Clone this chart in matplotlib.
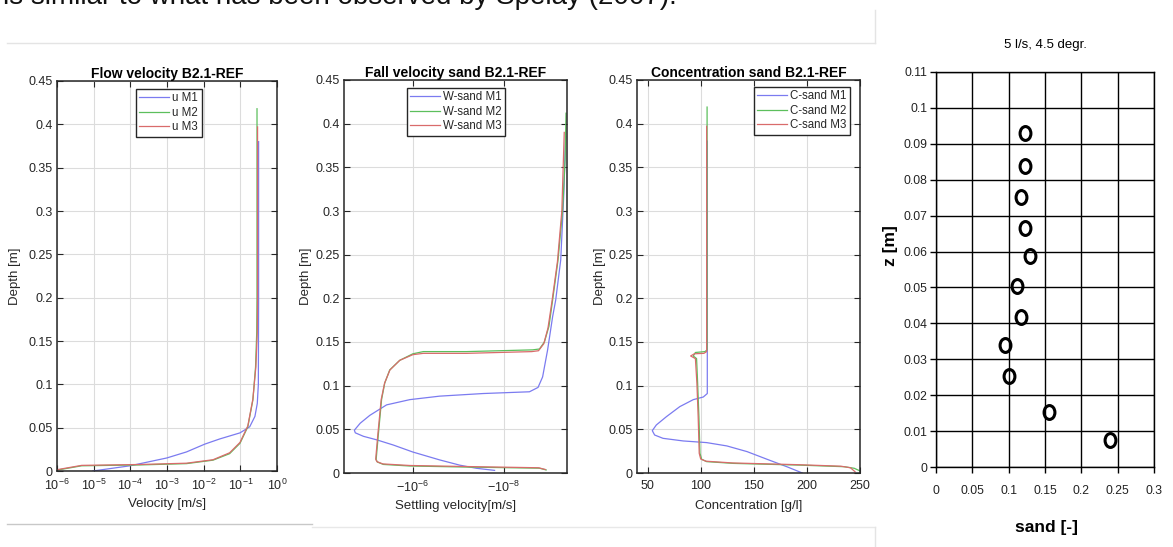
import numpy as np
import matplotlib
matplotlib.use("Agg")
import matplotlib.pyplot as plt
from matplotlib import font_manager, ticker
from matplotlib.lines import Line2D
from matplotlib.markers import MarkerStyle
from matplotlib.transforms import Affine2D

plt.rcParams["font.family"] = "Liberation Sans"
plt.rcParams["mathtext.fontset"] = "custom"
plt.rcParams["mathtext.rm"] = "Liberation Sans"
plt.rcParams["mathtext.it"] = "Liberation Sans:italic"
plt.rcParams["mathtext.bf"] = "Liberation Sans:bold"

_names = {f.name for f in font_manager.fontManager.ttflist}
NARROW = "Liberation Sans Narrow" if "Liberation Sans Narrow" in _names else "Liberation Sans"
HAS_NARROW = NARROW != "Liberation Sans"

# ---- data -------------------------------------------------------------
# flow velocity [m/s] vs depth [m]
u_m1 = [9.5e-6, 9.8e-5, 9.8e-4, 3.4e-3, 1.07e-2, 2.75e-2, 9.8e-2, 0.18, 0.25, 0.29, 0.31, 0.315, 0.315]
z_u_m1 = [0.0, 0.006, 0.015, 0.022, 0.031, 0.037, 0.044, 0.051, 0.063, 0.078, 0.10, 0.2, 0.38]
u_m2 = [1e-6, 4.7e-6, 1.8e-4, 3.4e-3, 1.8e-2, 5.1e-2, 9.8e-2, 0.16, 0.22, 0.26, 0.28, 0.285, 0.285]
z_u_m2 = [0.001, 0.006, 0.007, 0.0085, 0.0125, 0.020, 0.032, 0.051, 0.082, 0.12, 0.16, 0.2, 0.418]
u_m3 = [1e-6, 4.7e-6, 1.8e-4, 3.4e-3, 1.8e-2, 5.1e-2, 9.8e-2, 0.16, 0.22, 0.265, 0.29, 0.295, 0.295]
z_u_m3 = [0.0015, 0.0065, 0.0075, 0.009, 0.013, 0.021, 0.033, 0.052, 0.083, 0.12, 0.16, 0.2, 0.397]

# settling velocity [m/s] vs depth [m]
w_m1 = [-1.58e-8, -3.98e-8, -9.3e-8, -2.57e-7, -1.0e-6, -2.69e-6, -6.3e-6, -1.23e-5, -1.86e-5,
        -1.95e-5, -1.45e-5, -8.9e-6, -3.8e-6, -1.17e-6, -2.57e-7, -2.82e-8, -2.69e-9, -1.74e-9,
        -1.38e-9, -1.07e-9, -8.3e-10, -7.1e-10, -5.5e-10, -4.7e-10, -4.3e-10]
z_w_m1 = [0.003, 0.0054, 0.009, 0.015, 0.024, 0.032, 0.038, 0.042, 0.046,
          0.049, 0.057, 0.066, 0.078, 0.084, 0.088, 0.091, 0.093, 0.098,
          0.110, 0.141, 0.179, 0.198, 0.244, 0.32, 0.385]
w_m2 = [-1.15e-9, -1.62e-9, -6.6e-8, -1.17e-6, -4.47e-6, -6.03e-6, -6.46e-6, -5.75e-6, -4.9e-6,
        -4.17e-6, -3.24e-6, -1.95e-6, -1.0e-6, -5.9e-7, -6.6e-8, -2.29e-9, -1.62e-9, -1.26e-9,
        -1.0e-9, -8.3e-10, -6.3e-10, -5.0e-10, -4.4e-10, -4.2e-10]
z_w_m2 = [0.0035, 0.0055, 0.0068, 0.008, 0.0098, 0.0125, 0.0152, 0.045, 0.084,
          0.103, 0.118, 0.129, 0.1365, 0.139, 0.139, 0.141, 0.142, 0.150,
          0.168, 0.198, 0.244, 0.301, 0.359, 0.412]
w_m3 = [-1.2e-9, -1.7e-9, -6.6e-8, -1.17e-6, -4.6e-6, -6.2e-6, -6.6e-6, -5.9e-6, -5.0e-6,
        -4.2e-6, -3.2e-6, -1.95e-6, -1.0e-6, -5.9e-7, -6.6e-8, -2.4e-9, -1.7e-9, -1.3e-9,
        -1.05e-9, -8.6e-10, -6.5e-10, -5.2e-10, -4.6e-10]
z_w_m3 = [0.004, 0.006, 0.0074, 0.0086, 0.0104, 0.013, 0.016, 0.045, 0.084,
          0.103, 0.118, 0.129, 0.1355, 0.137, 0.137, 0.139, 0.140, 0.148,
          0.166, 0.196, 0.242, 0.300, 0.39]

# sand concentration [g/l] vs depth [m]
c_m1 = [195.7, 181.5, 162.5, 143.6, 124.6, 105.6, 83.5, 64.5, 56.6, 54.4, 58.2, 67.7, 80.3,
        93.0, 102.4, 106.2, 106.2, 106.2, 106.2]
z_c_m1 = [0.0, 0.007, 0.0157, 0.0245, 0.031, 0.0348, 0.0367, 0.0397, 0.0435, 0.0485, 0.055,
          0.0645, 0.076, 0.084, 0.087, 0.091, 0.122, 0.139, 0.38]
c_m2 = [249.4, 244.6, 235.1, 194.0, 130.9, 105.6, 100.9, 99.3, 98.3, 97.1, 96.1, 93.0,
        95.0, 104.0, 106.0, 106.0]
z_c_m2 = [0.0027, 0.0054, 0.0072, 0.009, 0.011, 0.013, 0.0157, 0.0225, 0.0645, 0.103, 0.131,
          0.134, 0.138, 0.139, 0.141, 0.419]
c_m3 = [245.3, 241.0, 232.0, 192.0, 130.0, 105.0, 100.0, 98.6, 97.6, 96.4, 95.0, 90.5,
        94.0, 103.0, 105.6, 105.6]
z_c_m3 = [0.0015, 0.006, 0.0078, 0.0095, 0.0115, 0.0135, 0.016, 0.0225, 0.0645, 0.103, 0.131,
          0.134, 0.1365, 0.137, 0.139, 0.397]

# measured sand fraction (5 l/s, 4.5 degr.)
sand_frac = [0.123, 0.123, 0.117, 0.123, 0.129, 0.111, 0.117, 0.095, 0.101, 0.155, 0.240]
sand_z = [0.093, 0.0839, 0.0753, 0.0666, 0.0588, 0.0505, 0.0419, 0.034, 0.0253, 0.0154, 0.0075]

depth_ticks = [0, 0.05, 0.1, 0.15, 0.2, 0.25, 0.3, 0.35, 0.4, 0.45]
depth_ticklabels = ["0", "0.05", "0.1", "0.15", "0.2", "0.25", "0.3", "0.35", "0.4", "0.45"]

BLUE, GREEN, RED = "#7b7bf0", "#5cbf5c", "#d96b6b"
AXC = "#262626"
W, H = 1173, 547


def px_rect(left, top, right, bottom):
    return [left / W, 1 - bottom / H, (right - left) / W, (bottom - top) / H]


def matlab_axes(ax, title, xlabel, ylab_x, legend_loc, anchor, legend_labels, lines):
    ax.set_ylim(0, 0.45)
    ax.set_yticks(depth_ticks)
    ax.set_yticklabels(depth_ticklabels)
    ax.tick_params(which="both", direction="in", top=True, right=True, length=4,
                   width=0.8, color=AXC, labelsize=9, labelcolor=AXC, pad=3)
    ax.tick_params(axis="x", pad=5)
    ax.tick_params(which="minor", length=0)
    for s in ax.spines.values():
        s.set_color(AXC)
        s.set_linewidth(1.1)
    ax.grid(True, which="major", color="#dcdcdc", linewidth=0.8)
    ax.set_axisbelow(True)
    ax.set_title(title, fontsize=10, fontweight="bold", color="black", pad=2)
    ax.set_xlabel(xlabel, fontsize=9.5, color=AXC)
    ax.xaxis.set_label_coords(0.5, -0.068)
    ax.set_ylabel("Depth [m]", fontsize=9.5, color=AXC)
    ax.yaxis.set_label_coords(ylab_x, 0.5)
    leg = ax.legend(lines, legend_labels, loc=legend_loc, fontsize=8.3, handlelength=2.6,
                    handletextpad=0.25, borderpad=0.3, labelspacing=0.2,
                    borderaxespad=0.0, fancybox=False, framealpha=1, edgecolor=AXC,
                    bbox_to_anchor=anchor)
    leg.get_frame().set_linewidth(1.0)
    for t in leg.get_texts():
        t.set_color(AXC)


fig = plt.figure(figsize=(W / 100, H / 100), dpi=100)
fig.patch.set_facecolor("white")

# document fragments around the figure
fig.text(3 / W, 1 - 4 / H, "is similar to what has been observed by Spelay (2007).",
         fontsize=20, va="baseline", ha="left", color="#111111")
for (x0, y0, x1, y1, c) in [(7, 43, 875, 43, "#e4e4e4"), (875, 10, 875, 43, "#e4e4e4"),
                            (7, 524, 312, 524, "#c8c8c8"), (312, 527, 875, 527, "#e8e8e8"),
                            (875, 527, 875, 547, "#e4e4e4")]:
    fig.add_artist(Line2D([x0 / W, x1 / W], [1 - y0 / H, 1 - y1 / H],
                          transform=fig.transFigure, color=c, linewidth=1))

# ---- panel 1: flow velocity --------------------------------------------
ax1 = fig.add_axes(px_rect(57, 81, 277, 471))
l1, = ax1.plot(u_m1, z_u_m1, color=BLUE, lw=0.9)
l2, = ax1.plot(u_m2, z_u_m2, color=GREEN, lw=0.9)
l3, = ax1.plot(u_m3, z_u_m3, color=RED, lw=0.9)
ax1.set_xscale("log")
ax1.set_xlim(1e-6, 1e0)
ax1.xaxis.set_major_locator(ticker.LogLocator(base=10, numticks=10))
ax1.xaxis.set_minor_locator(ticker.NullLocator())
# legend box spans x 136-199 px, top at 89 px
matlab_axes(ax1, "Flow velocity B2.1-REF", "Velocity [m/s]", -0.165, "upper left",
            ((136 - 57) / 220, (471 - 89) / 390), ["u M1", "u M2", "u M3"], [l1, l2, l3])

# ---- panel 2: fall velocity (negative values on a log axis) -------------
ax2 = fig.add_axes(px_rect(344, 80, 567, 473))
ax2.set_xscale("function", functions=(lambda x: -np.log10(-np.asarray(x, float)),
                                      lambda y: -10.0 ** (-np.asarray(y, float))))
l1, = ax2.plot(w_m1, z_w_m1, color=BLUE, lw=0.9)
l2, = ax2.plot(w_m2, z_w_m2, color=GREEN, lw=0.9)
l3, = ax2.plot(w_m3, z_w_m3, color=RED, lw=0.9)
ax2.set_xlim(-3.3e-5, -4.0e-10)
ax2.xaxis.set_major_locator(ticker.FixedLocator([-1e-6, -1e-8]))
ax2.xaxis.set_major_formatter(ticker.FixedFormatter([r"$\mathdefault{-10^{-6}}$",
                                                     r"$\mathdefault{-10^{-8}}$"]))
ax2.xaxis.set_minor_locator(ticker.NullLocator())
matlab_axes(ax2, "Fall velocity sand B2.1-REF", "Settling velocity[m/s]", -0.143, "upper left",
            ((407 - 344) / 223, (473 - 88) / 393), ["W-sand M1", "W-sand M2", "W-sand M3"],
            [l1, l2, l3])

# ---- panel 3: concentration --------------------------------------------
ax3 = fig.add_axes(px_rect(637, 80, 860, 473))
l1, = ax3.plot(c_m1, z_c_m1, color=BLUE, lw=0.9)
l2, = ax3.plot(c_m2, z_c_m2, color=GREEN, lw=0.9)
l3, = ax3.plot(c_m3, z_c_m3, color=RED, lw=0.9)
ax3.set_xlim(40, 250)
ax3.set_xticks([50, 100, 150, 200, 250])
matlab_axes(ax3, "Concentration sand B2.1-REF", "Concentration [g/l]", -0.137, "upper right",
            ((850 - 637) / 223, (473 - 87) / 393), ["C-sand M1", "C-sand M2", "C-sand M3"],
            [l1, l2, l3])

# ---- panel 4: measurements ---------------------------------------------
ax4 = fig.add_axes(px_rect(936, 72, 1154, 467))
ring = MarkerStyle("o", fillstyle="none", transform=Affine2D().scale(0.78, 1.0))
ax4.plot(sand_frac, sand_z, linestyle="none", marker=ring, markersize=10,
         markeredgewidth=2.2, color="black")
ax4.set_xlim(0, 0.3)
ax4.set_ylim(0, 0.11)
ax4.set_xticks([0, 0.05, 0.1, 0.15, 0.2, 0.25, 0.3])
ax4.set_xticklabels(["0", "0.05", "0.1", "0.15", "0.2", "0.25", "0.3"])
ax4.set_yticks(np.arange(12) * 0.01)
ax4.set_yticklabels(["0", "0.01", "0.02", "0.03", "0.04", "0.05", "0.06", "0.07",
                     "0.08", "0.09", "0.1", "0.11"])
ax4.grid(True, color="black", linewidth=1.0)
ax4.set_axisbelow(True)
for s in ax4.spines.values():
    s.set_color("black")
    s.set_linewidth(1.0)
ax4.tick_params(direction="out", length=4, width=1, color="black", pad=2)
ax4.tick_params(axis="x", pad=9)
for lab in ax4.get_xticklabels() + ax4.get_yticklabels():
    lab.set_fontfamily(NARROW)
    lab.set_fontsize(10 if HAS_NARROW else 8.8)
    lab.set_color("#222222")
ax4.set_title("5 l/s, 4.5 degr.", family=NARROW, fontsize=11 if HAS_NARROW else 9.5,
              pad=17)
ax4.set_xlabel("sand [-]", family=NARROW, fontweight="bold",
               fontsize=15 if HAS_NARROW else 12.5)
ax4.xaxis.set_label_coords(0.505, -0.135)
ax4.set_ylabel("z [m]", family=NARROW, fontweight="bold",
               fontsize=15 if HAS_NARROW else 12.5)
ax4.yaxis.set_label_coords(-0.175, 0.56)

fig.savefig("out.png", dpi=100, facecolor="white")
